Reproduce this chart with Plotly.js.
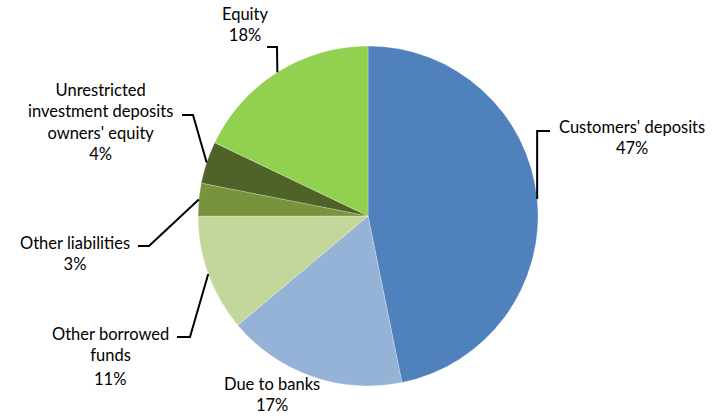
<!DOCTYPE html>
<html>
<head>
<meta charset="utf-8">
<script src="https://cdn.plot.ly/plotly-3.0.1.min.js"></script>
<style>html,body{margin:0;padding:0;background:#fff;}#chart{width:725px;height:416px;}</style>
</head>
<body>
<div id="chart"></div>
<script>
// ---- data ----
var categories = ["Customers' deposits", "Due to banks", "Other borrowed funds", "Other liabilities", "Unrestricted investment deposits owners' equity", "Equity"];
var labelLines = [["Customers' deposits"], ["Due to banks"], ["Other borrowed", "funds"], ["Other liabilities"], ["Unrestricted", "investment deposits", "owners' equity"], ["Equity"]];
var values = [46.8, 17.1, 11.1, 3.1, 4.0, 17.9];
var percentLabels = ["47%", "17%", "11%", "3%", "4%", "18%"];

// ---- style / layout ----
var colors = ["#4F81BD", "#95B3D7", "#C4D79B", "#77933C", "#4F6228", "#92D050"];
var W = 725, H = 416;
var CX = 368, CY = 216, R = 170;
var FONT = {family: 'Lato, "Open Sans", sans-serif', size: 16.5, color: '#000'};
// label block centre (px), optional separate percent position, leader elbow/end (px)
var labelPos = [
  {x: 632, y: 138, elbow: "vertical", ey: 131, end: 550},
  {x: 272, y: 394.5, elbow: null},
  {x: 111, y: 344.5, pct: [110, 379], elbow: [190, 337], end: [177, 337]},
  {x: 75, y: 253.5, elbow: [149, 246], end: [138, 246]},
  {x: 100, y: 121.5, elbow: [193, 115], end: [182, 115]},
  {x: 245, y: 24.5, elbow: [277, 47], end: [267, 47]}
];
function px(x) { return x / W; }
function py(y) { return 1 - y / H; }

var trace = {
  type: 'pie',
  values: values,
  labels: categories,
  sort: false,
  direction: 'clockwise',
  rotation: 0,
  textinfo: 'none',
  hoverinfo: 'label+percent',
  marker: {colors: colors, line: {color: 'rgba(255,255,255,0.5)', width: 0.5}},
  domain: {x: [px(CX - R), px(CX + R)], y: [py(CY + R), py(CY - R)]},
  showlegend: false
};

var total = values.reduce(function(a, b) { return a + b; }, 0);
var annotations = [], shapes = [];
var cum = 0;
function addText(x, y, text) {
  annotations.push({
    x: px(x), y: py(y), xref: 'paper', yref: 'paper',
    xanchor: 'center', yanchor: 'middle', showarrow: false,
    text: text, align: 'center', font: FONT
  });
}
for (var i = 0; i < values.length; i++) {
  var mid = (cum + values[i] / 2) / total * 2 * Math.PI;
  cum += values[i];
  var ex = CX + R * Math.sin(mid), ey = CY - R * Math.cos(mid);
  var lp = labelPos[i];
  var text = labelLines[i].join('<br>');
  if (lp.pct) {
    addText(lp.x, lp.y, text);
    addText(lp.pct[0], lp.pct[1], percentLabels[i]);
  } else {
    addText(lp.x, lp.y, text + '<br>' + percentLabels[i]);
  }
  var path = null;
  if (lp.elbow === 'vertical') {
    path = 'M ' + px(ex) + ' ' + py(ey) + ' L ' + px(ex) + ' ' + py(lp.ey) + ' L ' + px(lp.end) + ' ' + py(lp.ey);
  } else if (lp.elbow) {
    path = 'M ' + px(ex) + ' ' + py(ey) + ' L ' + px(lp.elbow[0]) + ' ' + py(lp.elbow[1]) + ' L ' + px(lp.end[0]) + ' ' + py(lp.end[1]);
  }
  if (path) shapes.push({type: 'path', xref: 'paper', yref: 'paper', path: path, line: {color: '#000', width: 2}});
}

var layout = {
  width: W, height: H,
  margin: {l: 0, r: 0, t: 0, b: 0},
  paper_bgcolor: '#fff', plot_bgcolor: '#fff',
  annotations: annotations,
  shapes: shapes,
  showlegend: false
};
Plotly.newPlot('chart', [trace], layout, {displayModeBar: false, staticPlot: true});
</script>
</body>
</html>
